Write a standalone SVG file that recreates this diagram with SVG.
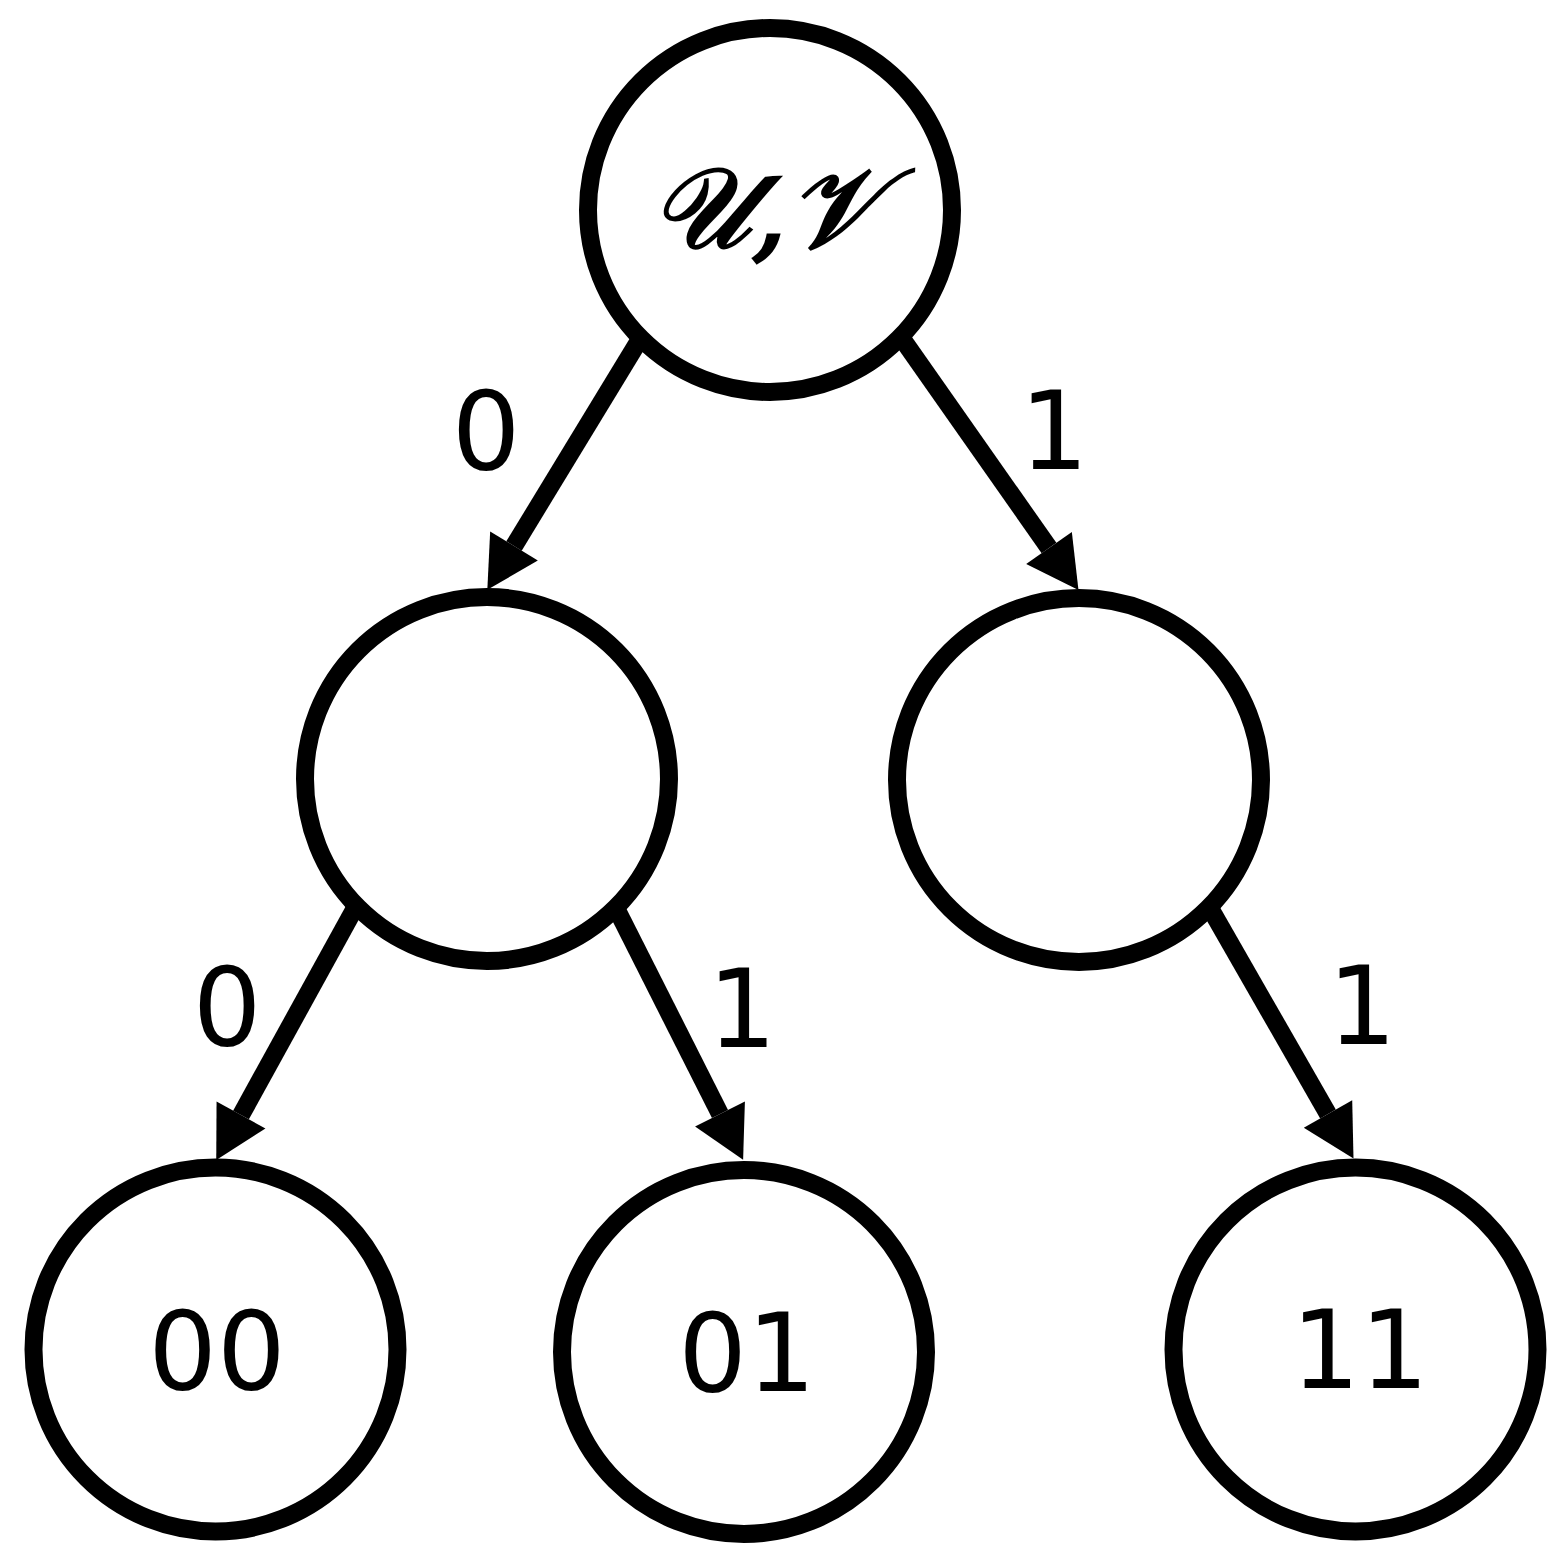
<svg xmlns="http://www.w3.org/2000/svg" width="1557" height="1561" viewBox="0 0 1557 1561">
<style>
.node{fill:#fff;stroke:#000;stroke-width:18}
.edge{stroke:#000;stroke-width:18;fill:none;marker-end:url(#ah)}
.t{font-family:"DejaVu Sans","Liberation Sans",sans-serif;font-size:108px;fill:#000;text-anchor:middle}
.m{font-family:"DejaVu Serif","Liberation Serif",serif;font-style:italic;font-size:112px;fill:#000;stroke:#000;stroke-width:3;text-anchor:middle}
</style>
<defs>
<marker id="ah" markerUnits="strokeWidth" markerWidth="3" markerHeight="3.2" refX="0" refY="1.55" orient="auto" overflow="visible">
<path d="M0,0 L2.85,1.55 L0,3.1 z" fill="#000"/>
</marker>
</defs>
<rect width="1557" height="1561" fill="#fff"/>
<g id="connectors">
<line class="edge" x1="640" y1="339" x2="514" y2="546"/>
<g id="lbl-e1"><text class="t" x="486" y="469">0</text></g>
<line class="edge" x1="903" y1="340" x2="1049" y2="548"/>
<g id="lbl-e2"><text class="t" x="1054" y="469">1</text></g>
<line class="edge" x1="355" y1="908" x2="241" y2="1115"/>
<g id="lbl-e3"><text class="t" x="227" y="1045">0</text></g>
<line class="edge" x1="616" y1="908" x2="720" y2="1114"/>
<g id="lbl-e4"><text class="t" x="742" y="1047">1</text></g>
<line class="edge" x1="1210" y1="908" x2="1328" y2="1114"/>
<g id="lbl-e5"><text class="t" x="1362" y="1044">1</text></g>
</g>
<g id="root"><circle class="node" cx="770" cy="210" r="182"/><text class="m" x="765" y="247">𝒰,𝒱</text></g>
<g id="n0"><circle class="node" cx="487" cy="779" r="182"/></g>
<g id="n1"><circle class="node" cx="1079" cy="780" r="182"/></g>
<g id="n00"><circle class="node" cx="215.5" cy="1349.5" r="182"/><text class="t" x="217" y="1389">00</text></g>
<g id="n01"><circle class="node" cx="744" cy="1352" r="182"/><text class="t" x="747" y="1391">01</text></g>
<g id="n11"><circle class="node" cx="1355.5" cy="1349.5" r="182"/><text class="t" x="1360" y="1388">11</text></g>
</svg>
